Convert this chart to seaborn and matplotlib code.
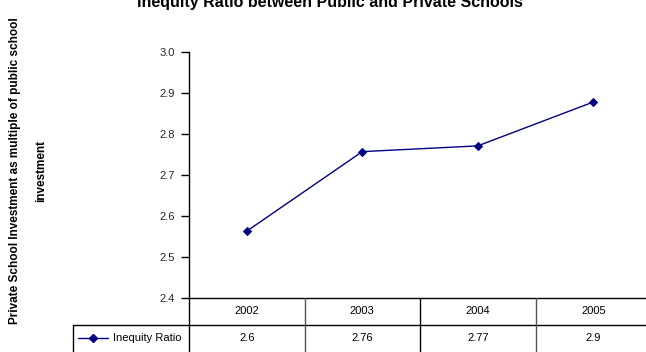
import matplotlib
matplotlib.use("Agg")
import matplotlib.pyplot as plt
from matplotlib.lines import Line2D
import seaborn as sns
import pandas as pd

# ---- data -------------------------------------------------------------
years = ["2002", "2003", "2004", "2005"]
ratio = [2.563, 2.757, 2.771, 2.878]
table_decimals = [1, 2, 2, 1]          # display precision per table cell
series_name = "Inequity Ratio"
y_ticks = [2.4, 2.5, 2.6, 2.7, 2.8, 2.9, 3.0]

title = "Inequity Ratio between Public and Private Schools"
ylabel_lines = ["Private School Investment as multiple of public school",
                "investment"]

df = pd.DataFrame({"year": years, "ratio": ratio})

# ---- figure -----------------------------------------------------------
sns.set_theme(style="white")
plt.rcParams["font.family"] = ["Liberation Sans", "DejaVu Sans"]

W, H = 646, 352
fig = plt.figure(figsize=(W / 100, H / 100), dpi=100)
fig.patch.set_facecolor("white")

# plot area in pixels (left, right, top, bottom)
pl, pr, pt, pb = 189, 651, 52, 298
ax = fig.add_axes([pl / W, 1 - pb / H, (pr - pl) / W, (pb - pt) / H])
ax.set_facecolor("white")

navy = "#000080"
sns.lineplot(data=df, x="year", y="ratio", ax=ax, color=navy, lw=1.0,
             marker="D", markersize=4.5, markeredgecolor=navy,
             markerfacecolor=navy, sort=False)

ax.set_xlim(-0.5, len(years) - 0.5)
ax.set_ylim(y_ticks[0], y_ticks[-1])
ax.set_yticks(y_ticks)
ax.set_yticklabels([f"{t:.1f}" for t in y_ticks], fontsize=8)
ax.set_xticks([])
ax.set_xlabel("")
ax.set_ylabel("")
for s in ["top", "right", "bottom"]:
    ax.spines[s].set_visible(False)
ax.spines["left"].set_color("black")
ax.spines["left"].set_linewidth(1.0)
ax.tick_params(axis="y", direction="out", length=6, width=1.0,
               color="black", pad=4, left=True)

# ---- data table under the plot -----------------------------------------
def fx(x):
    return x / W

def fy(y):
    return 1 - y / H

tl, row1, row2 = 73, 325, 360  # table left edge, row boundaries (px)
col_w = (pr - pl) / len(years)

def hline(x0, x1, y, color="black"):
    fig.add_artist(Line2D([fx(x0), fx(x1)], [fy(y), fy(y)], color=color,
                          lw=1.0, transform=fig.transFigure))

def vline(x, y0, y1, color="black"):
    fig.add_artist(Line2D([fx(x), fx(x)], [fy(y0), fy(y1)], color=color,
                          lw=1.0, transform=fig.transFigure))

hline(pl, pr, pb)
hline(tl, pr, row1)
vline(tl, row1, row2)
for i in range(len(years) + 1):
    x = pl + i * col_w
    vline(x, pb, row2, color="black" if i % 2 == 0 else "#555555")

for i, (yr, v, d) in enumerate(zip(years, ratio, table_decimals)):
    cx = pl + (i + 0.5) * col_w
    fig.text(fx(cx), fy((pb + row1) / 2), yr, ha="center", va="center",
             fontsize=8, color="black")
    fig.text(fx(cx), fy(338), f"{v:.{d}f}", ha="center", va="center",
             fontsize=8, color="black")

# legend key inside the table
fig.add_artist(Line2D([fx(78), fx(108)], [fy(338), fy(338)], color=navy,
                      lw=1.0, transform=fig.transFigure))
fig.add_artist(Line2D([fx(93)], [fy(338)], color=navy, marker="D",
                      markersize=4.5, transform=fig.transFigure))
fig.text(fx(113), fy(338), series_name, ha="left", va="center",
         fontsize=8, color="black")

# ---- titles -------------------------------------------------------------
fig.text(fx(330), fy(7), title, ha="center", va="baseline",
         fontsize=11.5, fontweight="bold", color="black")
fig.text(fx(15), fy(171), ylabel_lines[0], rotation=90, ha="center",
         va="center", fontsize=8.5, fontweight="bold", color="black")
fig.text(fx(41), fy(171), ylabel_lines[1], rotation=90, ha="center",
         va="center", fontsize=8.5, fontweight="bold", color="black")

fig.savefig("out.png", dpi=100, facecolor="white")
